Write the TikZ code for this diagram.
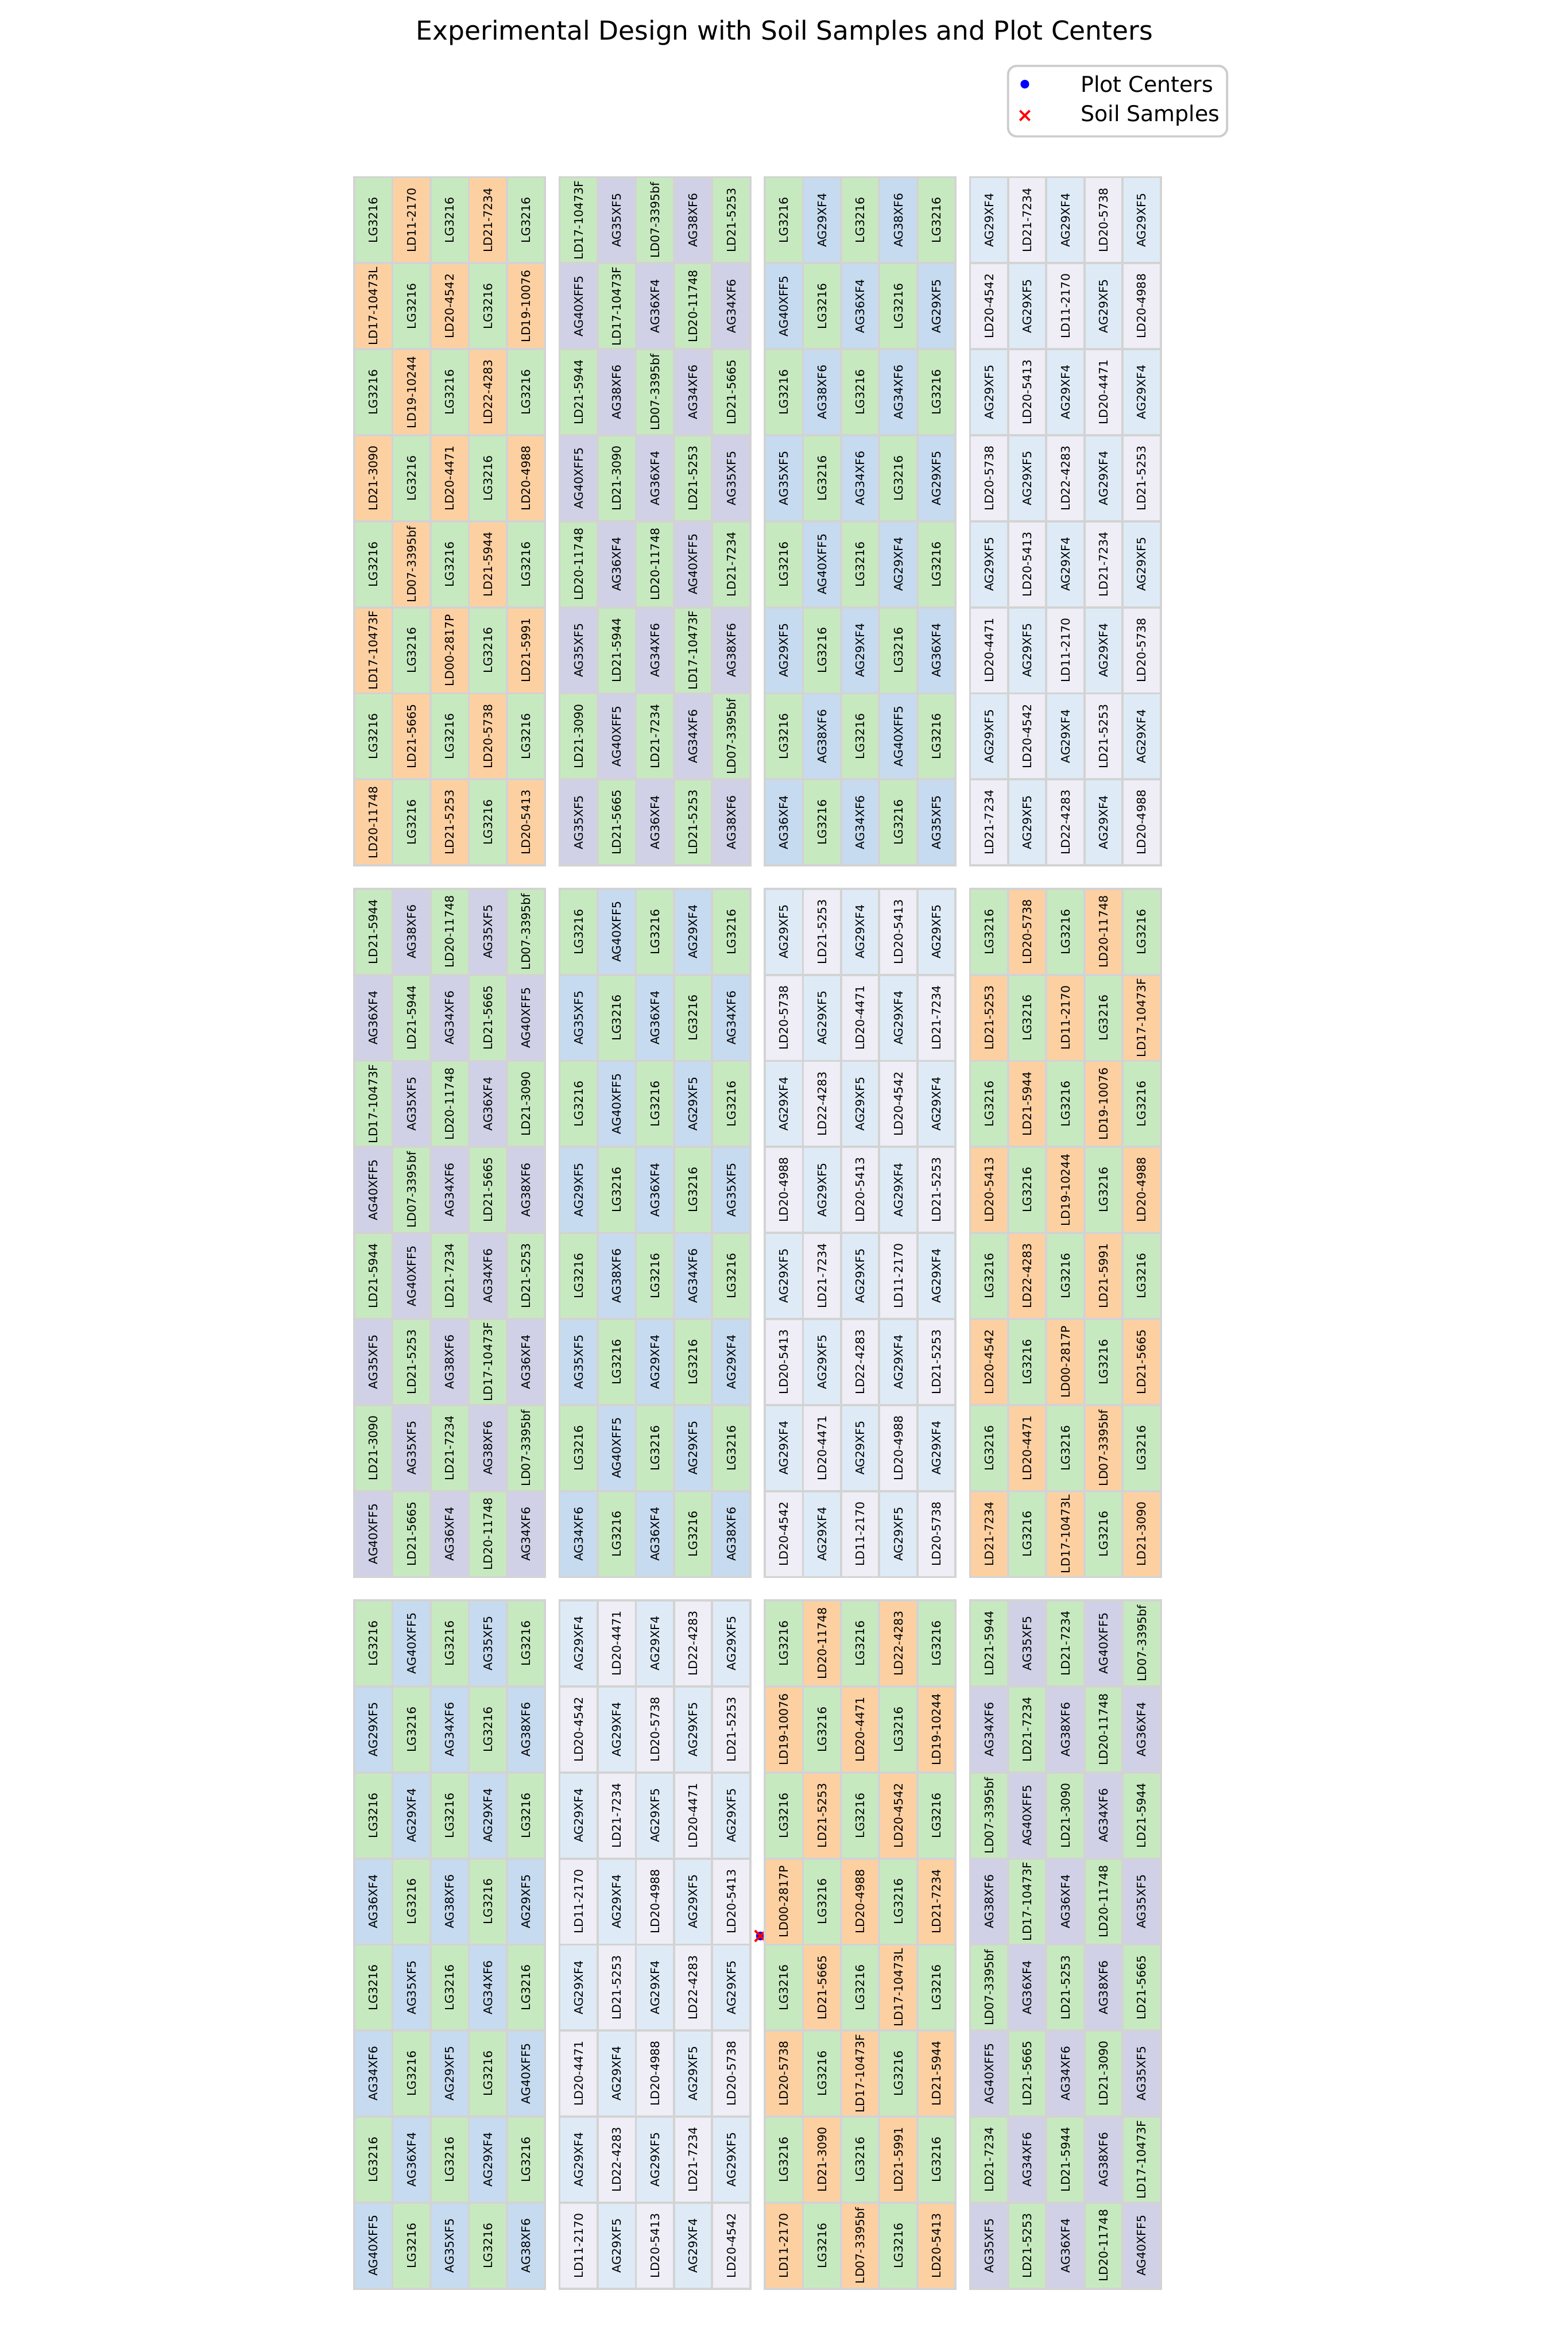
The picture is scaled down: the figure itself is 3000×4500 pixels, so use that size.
\documentclass[tikz,border=0pt]{standalone}
\usepackage{fontspec}
\setmainfont{DejaVu Sans}
\usepackage{graphicx}
\usetikzlibrary{shapes.misc}
\definecolor{cgreen}{HTML}{C7E9C0}
\definecolor{corange}{HTML}{FDD0A2}
\definecolor{cpurple}{HTML}{D0D1E6}
\definecolor{cblue}{HTML}{C6DBEF}
\definecolor{clblue}{HTML}{DEEBF7}
\definecolor{clgray}{HTML}{EFEDF5}
\definecolor{cedge}{HTML}{D3D3D3}
\newcommand\drawblock[6]{%
  \foreach \txt [count=\i from 0] in {#6} {%
    \pgfmathtruncatemacro\rr{div(\i,5)}%
    \pgfmathtruncatemacro\cc{mod(\i,5)}%
    \pgfmathtruncatemacro\pp{mod(\rr+\cc,2)}%
    \ifnum\pp=0 \def\fc{#4}\else\def\fc{#5}\fi
    \node[cellbox, fill=\fc] (#1-\rr-\cc) at ({#2+(\cc+0.5)*73},{#3+(\rr+0.5)*164.6}) {\rotatebox{90}{\txt}};%
  }%
}
\begin{document}
\begin{tikzpicture}[x=0.24pt,y=-0.24pt,
  cellbox/.style={draw=cedge, line width=1pt, minimum width=17.52pt, minimum height=39.5pt, inner sep=0pt, font=\fontsize{5.4}{6}\selectfont},
  legtext/.style={anchor=west, inner sep=0pt, font=\fontsize{10}{12}\selectfont}]
\useasboundingbox (0,0) rectangle (3000,4500);
\fill[white] (0,0) rectangle (3000,4500);
% stray markers
\node[circle, fill=blue, inner sep=0pt, minimum size=4pt] (pc) at (1455,3704) {};
\node[cross out, draw=red, line width=1pt, inner sep=0pt, minimum size=4pt] (ss) at (1455,3704) {};
\drawblock{b11}{678}{339}{cgreen}{corange}{%
LG3216,LD11-2170,LG3216,LD21-7234,LG3216,
LD17-10473L,LG3216,LD20-4542,LG3216,LD19-10076,
LG3216,LD19-10244,LG3216,LD22-4283,LG3216,
LD21-3090,LG3216,LD20-4471,LG3216,LD20-4988,
LG3216,LD07-3395bf,LG3216,LD21-5944,LG3216,
LD17-10473F,LG3216,LD00-2817P,LG3216,LD21-5991,
LG3216,LD21-5665,LG3216,LD20-5738,LG3216,
LD20-11748,LG3216,LD21-5253,LG3216,LD20-5413}
\drawblock{b12}{1070.7}{339}{cgreen}{cpurple}{%
LD17-10473F,AG35XF5,LD07-3395bf,AG38XF6,LD21-5253,
AG40XFF5,LD17-10473F,AG36XF4,LD20-11748,AG34XF6,
LD21-5944,AG38XF6,LD07-3395bf,AG34XF6,LD21-5665,
AG40XFF5,LD21-3090,AG36XF4,LD21-5253,AG35XF5,
LD20-11748,AG36XF4,LD20-11748,AG40XFF5,LD21-7234,
AG35XF5,LD21-5944,AG34XF6,LD17-10473F,AG38XF6,
LD21-3090,AG40XFF5,LD21-7234,AG34XF6,LD07-3395bf,
AG35XF5,LD21-5665,AG36XF4,LD21-5253,AG38XF6}
\drawblock{b13}{1463.4}{339}{cgreen}{cblue}{%
LG3216,AG29XF4,LG3216,AG38XF6,LG3216,
AG40XFF5,LG3216,AG36XF4,LG3216,AG29XF5,
LG3216,AG38XF6,LG3216,AG34XF6,LG3216,
AG35XF5,LG3216,AG34XF6,LG3216,AG29XF5,
LG3216,AG40XFF5,LG3216,AG29XF4,LG3216,
AG29XF5,LG3216,AG29XF4,LG3216,AG36XF4,
LG3216,AG38XF6,LG3216,AG40XFF5,LG3216,
AG36XF4,LG3216,AG34XF6,LG3216,AG35XF5}
\drawblock{b14}{1856.1}{339}{clblue}{clgray}{%
AG29XF4,LD21-7234,AG29XF4,LD20-5738,AG29XF5,
LD20-4542,AG29XF5,LD11-2170,AG29XF5,LD20-4988,
AG29XF5,LD20-5413,AG29XF4,LD20-4471,AG29XF4,
LD20-5738,AG29XF5,LD22-4283,AG29XF4,LD21-5253,
AG29XF5,LD20-5413,AG29XF4,LD21-7234,AG29XF5,
LD20-4471,AG29XF5,LD11-2170,AG29XF4,LD20-5738,
AG29XF5,LD20-4542,AG29XF4,LD21-5253,AG29XF4,
LD21-7234,AG29XF5,LD22-4283,AG29XF4,LD20-4988}
\drawblock{b21}{678}{1700.5}{cgreen}{cpurple}{%
LD21-5944,AG38XF6,LD20-11748,AG35XF5,LD07-3395bf,
AG36XF4,LD21-5944,AG34XF6,LD21-5665,AG40XFF5,
LD17-10473F,AG35XF5,LD20-11748,AG36XF4,LD21-3090,
AG40XFF5,LD07-3395bf,AG34XF6,LD21-5665,AG38XF6,
LD21-5944,AG40XFF5,LD21-7234,AG34XF6,LD21-5253,
AG35XF5,LD21-5253,AG38XF6,LD17-10473F,AG36XF4,
LD21-3090,AG35XF5,LD21-7234,AG38XF6,LD07-3395bf,
AG40XFF5,LD21-5665,AG36XF4,LD20-11748,AG34XF6}
\drawblock{b22}{1070.7}{1700.5}{cgreen}{cblue}{%
LG3216,AG40XFF5,LG3216,AG29XF4,LG3216,
AG35XF5,LG3216,AG36XF4,LG3216,AG34XF6,
LG3216,AG40XFF5,LG3216,AG29XF5,LG3216,
AG29XF5,LG3216,AG36XF4,LG3216,AG35XF5,
LG3216,AG38XF6,LG3216,AG34XF6,LG3216,
AG35XF5,LG3216,AG29XF4,LG3216,AG29XF4,
LG3216,AG40XFF5,LG3216,AG29XF5,LG3216,
AG34XF6,LG3216,AG36XF4,LG3216,AG38XF6}
\drawblock{b23}{1463.4}{1700.5}{clblue}{clgray}{%
AG29XF5,LD21-5253,AG29XF4,LD20-5413,AG29XF5,
LD20-5738,AG29XF5,LD20-4471,AG29XF4,LD21-7234,
AG29XF4,LD22-4283,AG29XF5,LD20-4542,AG29XF4,
LD20-4988,AG29XF5,LD20-5413,AG29XF4,LD21-5253,
AG29XF5,LD21-7234,AG29XF5,LD11-2170,AG29XF4,
LD20-5413,AG29XF5,LD22-4283,AG29XF4,LD21-5253,
AG29XF4,LD20-4471,AG29XF5,LD20-4988,AG29XF4,
LD20-4542,AG29XF4,LD11-2170,AG29XF5,LD20-5738}
\drawblock{b24}{1856.1}{1700.5}{cgreen}{corange}{%
LG3216,LD20-5738,LG3216,LD20-11748,LG3216,
LD21-5253,LG3216,LD11-2170,LG3216,LD17-10473F,
LG3216,LD21-5944,LG3216,LD19-10076,LG3216,
LD20-5413,LG3216,LD19-10244,LG3216,LD20-4988,
LG3216,LD22-4283,LG3216,LD21-5991,LG3216,
LD20-4542,LG3216,LD00-2817P,LG3216,LD21-5665,
LG3216,LD20-4471,LG3216,LD07-3395bf,LG3216,
LD21-7234,LG3216,LD17-10473L,LG3216,LD21-3090}
\drawblock{b31}{678}{3062}{cgreen}{cblue}{%
LG3216,AG40XFF5,LG3216,AG35XF5,LG3216,
AG29XF5,LG3216,AG34XF6,LG3216,AG38XF6,
LG3216,AG29XF4,LG3216,AG29XF4,LG3216,
AG36XF4,LG3216,AG38XF6,LG3216,AG29XF5,
LG3216,AG35XF5,LG3216,AG34XF6,LG3216,
AG34XF6,LG3216,AG29XF5,LG3216,AG40XFF5,
LG3216,AG36XF4,LG3216,AG29XF4,LG3216,
AG40XFF5,LG3216,AG35XF5,LG3216,AG38XF6}
\drawblock{b32}{1070.7}{3062}{clblue}{clgray}{%
AG29XF4,LD20-4471,AG29XF4,LD22-4283,AG29XF5,
LD20-4542,AG29XF4,LD20-5738,AG29XF5,LD21-5253,
AG29XF4,LD21-7234,AG29XF5,LD20-4471,AG29XF5,
LD11-2170,AG29XF4,LD20-4988,AG29XF5,LD20-5413,
AG29XF4,LD21-5253,AG29XF4,LD22-4283,AG29XF5,
LD20-4471,AG29XF4,LD20-4988,AG29XF5,LD20-5738,
AG29XF4,LD22-4283,AG29XF5,LD21-7234,AG29XF5,
LD11-2170,AG29XF5,LD20-5413,AG29XF4,LD20-4542}
\drawblock{b33}{1463.4}{3062}{cgreen}{corange}{%
LG3216,LD20-11748,LG3216,LD22-4283,LG3216,
LD19-10076,LG3216,LD20-4471,LG3216,LD19-10244,
LG3216,LD21-5253,LG3216,LD20-4542,LG3216,
LD00-2817P,LG3216,LD20-4988,LG3216,LD21-7234,
LG3216,LD21-5665,LG3216,LD17-10473L,LG3216,
LD20-5738,LG3216,LD17-10473F,LG3216,LD21-5944,
LG3216,LD21-3090,LG3216,LD21-5991,LG3216,
LD11-2170,LG3216,LD07-3395bf,LG3216,LD20-5413}
\drawblock{b34}{1856.1}{3062}{cgreen}{cpurple}{%
LD21-5944,AG35XF5,LD21-7234,AG40XFF5,LD07-3395bf,
AG34XF6,LD21-7234,AG38XF6,LD20-11748,AG36XF4,
LD07-3395bf,AG40XFF5,LD21-3090,AG34XF6,LD21-5944,
AG38XF6,LD17-10473F,AG36XF4,LD20-11748,AG35XF5,
LD07-3395bf,AG36XF4,LD21-5253,AG38XF6,LD21-5665,
AG40XFF5,LD21-5665,AG34XF6,LD21-3090,AG35XF5,
LD21-7234,AG34XF6,LD21-5944,AG38XF6,LD17-10473F,
AG35XF5,LD21-5253,AG36XF4,LD20-11748,AG40XFF5}
% title
\node[font=\fontsize{12}{14}\selectfont, inner sep=0pt] (title) at (1501,63) {Experimental Design with Soil Samples and Plot Centers};
% legend
\node[draw=black!20, line width=1pt, fill=white, rounded corners=4pt, minimum width=100.6pt, minimum height=32.4pt, inner sep=0pt] (legend) at (2138.5,193.5) {};
\node[circle, fill=blue, inner sep=0pt, minimum size=4pt] (legpc) at (1961,161) {};
\node[cross out, draw=red, line width=1pt, inner sep=0pt, minimum size=3.5pt] (legss) at (1961,221) {};
\node[legtext] (legpctext) at (2067,161) {Plot Centers};
\node[legtext] (legsstext) at (2067,221) {Soil Samples};
\end{tikzpicture}
\end{document}
